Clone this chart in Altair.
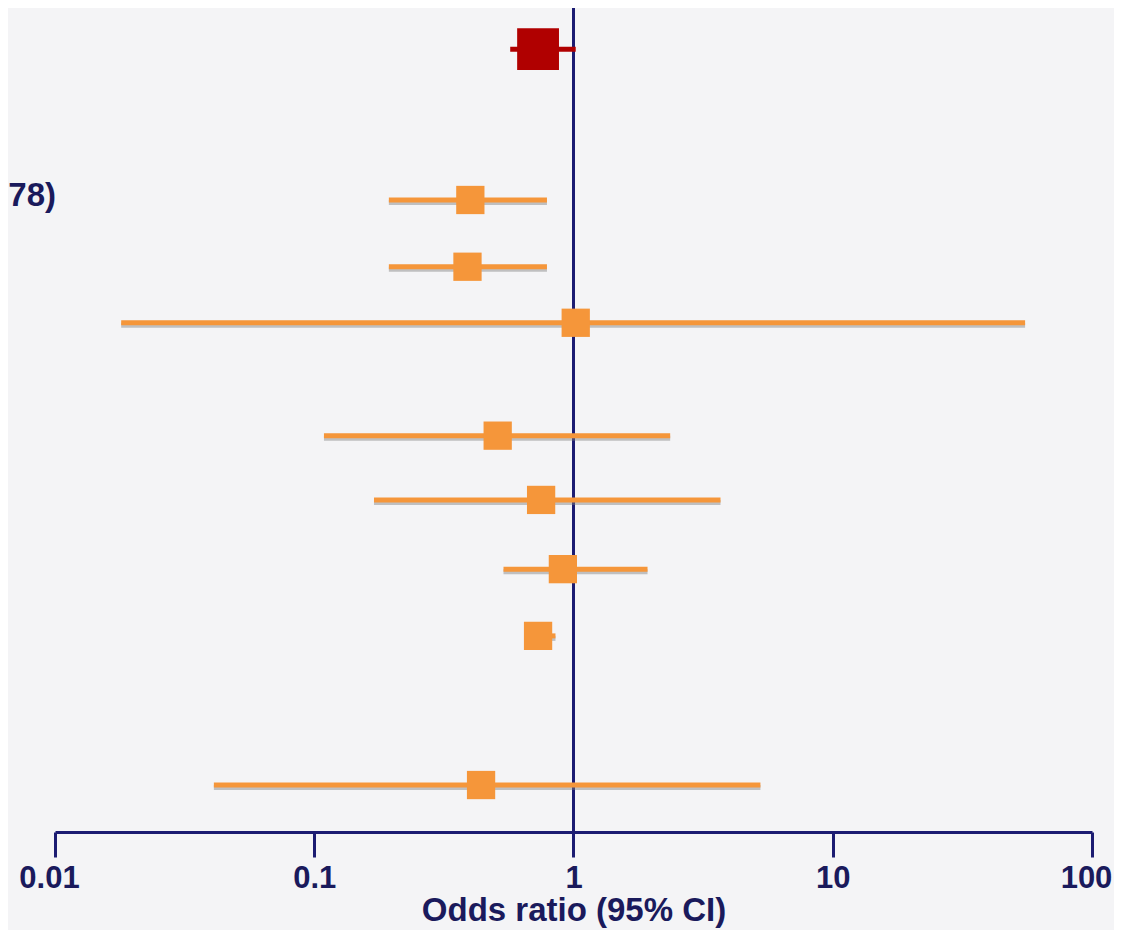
import altair as alt
import pandas as pd

# Study rows (row position measured from top, 0-100)
rows = [5.0, 23.3, 31.4, 38.2, 51.9, 59.7, 68.1, 76.2, 94.3]
odds = [0.73, 0.40, 0.39, 1.02, 0.51, 0.75, 0.91, 0.73, 0.44]
lower = [0.57, 0.194, 0.194, 0.018, 0.109, 0.17, 0.537, 0.653, 0.041]
upper = [1.02, 0.79, 0.79, 55.2, 2.36, 3.69, 1.93, 0.852, 5.26]
kind = ["overall", "study", "study", "study", "study", "study", "study", "study", "study"]

label_text = ["78)"]
label_row = [22.8]

tick_values = [0.01, 0.1, 1, 10, 100]

NAVY = "#1c1c72"
TEXT = "#1a1a5c"
ORANGE = "#f5963a"
RED = "#c80000"

df = pd.DataFrame({"row": rows, "or": odds, "lo": lower, "hi": upper, "kind": kind})
lab = pd.DataFrame({"label": label_text, "row": label_row})

W, H = 1037, 824

xscale = alt.Scale(type="log", domain=[0.01, 100], nice=False)
yscale = alt.Scale(domain=[0, 100], reverse=True, nice=False)

xaxis = alt.Axis(
    values=tick_values, format="~g", grid=False,
    domainColor=NAVY, domainWidth=3, tickColor=NAVY, tickWidth=3, tickSize=25,
    labelFont="Liberation Sans", labelFontWeight="bold", labelFontSize=31,
    labelColor=TEXT, labelPadding=6, labelFlush=False,
    labelOffset={"condition": {"test": "datum.value == 100 || datum.value == 0.01", "value": -6}, "value": 0},
    title="Odds ratio (95% CI)", titleFont="Liberation Sans", titleFontWeight="bold",
    titleFontSize=33, titleColor=TEXT, titlePadding=1,
)

base = alt.Chart(df)

ref = alt.Chart(pd.DataFrame({"v": [1]})).mark_rule(color=NAVY, strokeWidth=3).encode(
    x=alt.X("v:Q", scale=xscale, axis=xaxis)
)

shadow = base.transform_filter(alt.datum.kind == "study").mark_rule(
    color="#7f7f7f", opacity=0.45, strokeWidth=5, yOffset=2.5
).encode(
    x=alt.X("lo:Q", scale=xscale), x2="hi:Q",
    y=alt.Y("row:Q", scale=yscale, axis=None),
)

ci = base.mark_rule(strokeWidth=5).encode(
    x=alt.X("lo:Q", scale=xscale), x2="hi:Q",
    y=alt.Y("row:Q", scale=yscale, axis=None),
    color=alt.Color("kind:N", scale=alt.Scale(domain=["overall", "study"], range=["#b00000", ORANGE]), legend=None),
)

pts = base.mark_point(shape="square", filled=True, opacity=1).encode(
    x=alt.X("or:Q", scale=xscale),
    y=alt.Y("row:Q", scale=yscale, axis=None),
    color=alt.Color("kind:N", scale=alt.Scale(domain=["overall", "study"], range=[RED, ORANGE]), legend=None),
    size=alt.Size("kind:N", scale=alt.Scale(domain=["overall", "study"], range=[1750, 800]), legend=None),
)

txt = alt.Chart(lab).transform_calculate(x="0.01").mark_text(
    align="right", baseline="middle", dx=1, font="Liberation Sans",
    fontWeight="bold", fontSize=33, color=TEXT
).encode(
    x=alt.X("x:Q", scale=xscale),
    y=alt.Y("row:Q", scale=yscale, axis=None),
    text="label:N",
)

chart = alt.layer(ref, shadow, ci, pts, txt).properties(
    width=W, height=H,
    autosize=alt.AutoSizeParams(type="none"),
    padding={"left": 47, "top": 0, "right": 22, "bottom": 98},
    background="#f4f4f6",
).configure_view(stroke=None)

chart.save("out.html", embed_options={"renderer": "svg", "actions": False})
